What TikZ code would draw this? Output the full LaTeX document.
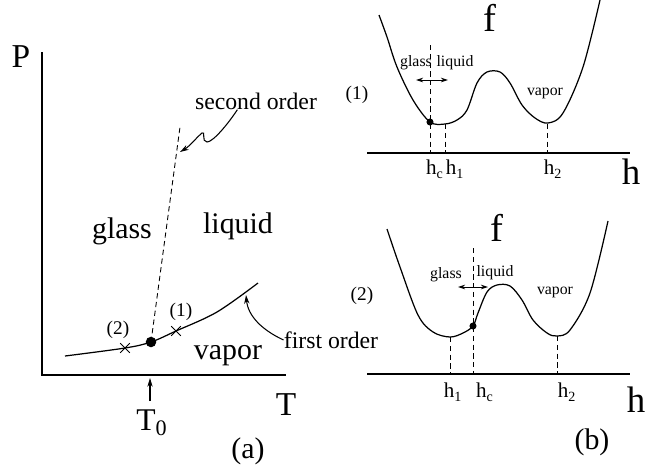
\documentclass[tikz,border=0pt]{standalone}
\usepackage{fontspec}
\setmainfont{Liberation Serif}
\usepackage{tikz}
\usetikzlibrary{arrows.meta,shapes.misc}

\begin{document}
\begin{tikzpicture}[
    x=0.02cm, y=-0.02cm,
    axis/.style={draw=black, line width=1.1pt},
    curve/.style={draw=black, line width=0.7pt, smooth, tension=0.55},
    guide/.style={draw=black, line width=0.5pt, dash pattern=on 3pt off 2pt},
    arrow/.style={-{Stealth[length=5pt,width=3pt]}, draw=black, line width=0.6pt},
    twoway/.style={{Stealth[length=4pt,width=2.6pt]}-{Stealth[length=4pt,width=2.6pt]}, draw=black, line width=0.5pt},
    big/.style={font=\fontsize{19}{21}\selectfont, inner sep=0pt},
    phase/.style={font=\fontsize{17}{19}\selectfont, inner sep=0pt},
    note/.style={font=\fontsize{13.5}{15}\selectfont, inner sep=0pt},
    minor/.style={font=\fontsize{9}{10}\selectfont, inner sep=0pt},
    caselab/.style={font=\fontsize{11}{12}\selectfont, inner sep=0pt},
    hlab/.style={font=\fontsize{12}{13}\selectfont, inner sep=0pt, anchor=north},
    cross/.style={cross out, draw=black, line width=0.5pt, minimum size=5pt, inner sep=0pt},
    dot/.style={circle, fill=black, inner sep=0pt, minimum size=#1},
    dot/.default=4pt
]
    \useasboundingbox (0,0) rectangle (656,464);

    % (a) phase diagram axes
    \coordinate (Ptop) at (42,52);
    \coordinate (orig) at (42,375);
    \coordinate (Tend) at (286,375);
    \draw [axis] (Ptop) -- (orig) -- (Tend);
    \node (P) at (21,57) [big] {P};
    \node (T) at (286,405) [big] {T};
    \node (pa) at (248,451) [phase] {(a)};

    % first order line with the tricritical point
    \draw [curve] plot coordinates {(65,356) (125,348) (151,342) (176,331) (217,312) (258,283)};
    \node (tri) at (151,342) [dot=6pt] {};
    \node (x2) at (125,348) [cross] {};
    \node (x1) at (176,331) [cross] {};
    \node (n2) at (118,330) [caselab] {(2)};
    \node (n1) at (181,312) [caselab] {(1)};

    % second order line
    \coordinate (sotop) at (180,127);
    \draw [guide] (tri.center) -- (sotop);

    % phases
    \node (glass) at (122,231) [phase] {glass};
    \node (liquid) at (238,226) [phase] {liquid};
    \node (vapor) at (228,356) [phase] {vapor};

    % labels of the two lines
    \node (second) at (256,101) [note] {second order};
    \node (first) at (331,340) [note] {first order};
    \coordinate (sotip) at (180,152);
    \coordinate (fotip) at (246,295);
    \draw [arrow] (second.205) .. controls (228,124) and (213,142) .. (207,142)
        .. controls (201,142) and (206,130) .. (202,133)
        .. controls (196,138) and (190,146) .. (sotip);
    \draw [arrow] (first.west) .. controls (262,330) and (248,316) .. (fotip);

    % T_0 marker
    \node (T0) at (152,423) [big, font=\fontsize{18}{20}\selectfont] {T\textsubscript{0}};
    \coordinate (tzero) at (150,378);
    \draw [arrow, shorten <=5pt] (T0.north -| tzero) -- (tzero);

    % (b) upper: case (1)
    \coordinate (ua) at (367,153);
    \coordinate (ub) at (630,153);
    \draw [axis] (ua) -- (ub);
    \node (fu) at (490,18) [big, font=\fontsize{22}{24}\selectfont] {f};
    \node (hu) at (631,172) [big, font=\fontsize{21}{23}\selectfont] {h};
    \draw [curve] plot coordinates {(379,15) (387,37) (397,67) (413,100) (430,122) (445,124)
        (457,120) (467,110) (477,83) (487,72) (500,72) (510,83) (522,105) (535,118)
        (548,123) (563,113) (583,67) (600,0)};
    \draw [guide] (430,45) -- (430,152);
    \draw [guide] (445,124) -- (445,152);
    \draw [guide] (547,124) -- (547,152);
    \node (du) at (430,122) [dot] {};
    \node (hcu) at (435,160) [hlab] {h\textsubscript{c}};
    \node (h1u) at (455,160) [hlab] {h\textsubscript{1}};
    \node (h2u) at (553,160) [hlab] {h\textsubscript{2}};
    \node (gu) at (416,63) [minor] {glass};
    \node (lu) at (455,63) [minor] {liquid};
    \node (vu) at (545,93) [minor] {vapor};
    \node (cu) at (357,95) [caselab] {(1)};
    \coordinate (au) at (416,80);
    \coordinate (bu) at (448,80);
    \draw [twoway] (au) -- (bu);

    % (b) lower: case (2)
    \coordinate (la) at (367,374);
    \coordinate (lb) at (630,374);
    \draw [axis] (la) -- (lb);
    \node (fl) at (497,228) [big, font=\fontsize{22}{24}\selectfont] {f};
    \node (hl) at (636,400) [big, font=\fontsize{21}{23}\selectfont] {h};
    \node (pb) at (592,442) [phase] {(b)};
    \draw [curve] plot coordinates {(387,229) (400,267) (418,315) (433,332) (450,337) (463,333)
        (473,326) (478,313) (487,292) (497,285) (510,286) (522,300) (533,320) (547,333)
        (557,336) (570,330) (590,293) (608,221)};
    \draw [guide] (473,248) -- (473,373);
    \draw [guide] (450,337) -- (450,373);
    \draw [guide] (557,336) -- (557,373);
    \node (dl) at (473,326) [dot] {};
    \node (h1l) at (453,383) [hlab] {h\textsubscript{1}};
    \node (hcl) at (485,383) [hlab] {h\textsubscript{c}};
    \node (h2l) at (567,383) [hlab] {h\textsubscript{2}};
    \node (gl) at (446,275) [minor] {glass};
    \node (ll) at (495,273) [minor] {liquid};
    \node (vl) at (555,292) [minor] {vapor};
    \node (cl) at (362,296) [caselab] {(2)};
    \coordinate (al) at (458,287);
    \coordinate (bl) at (488,287);
    \draw [twoway] (al) -- (bl);

\end{tikzpicture}
\end{document}
